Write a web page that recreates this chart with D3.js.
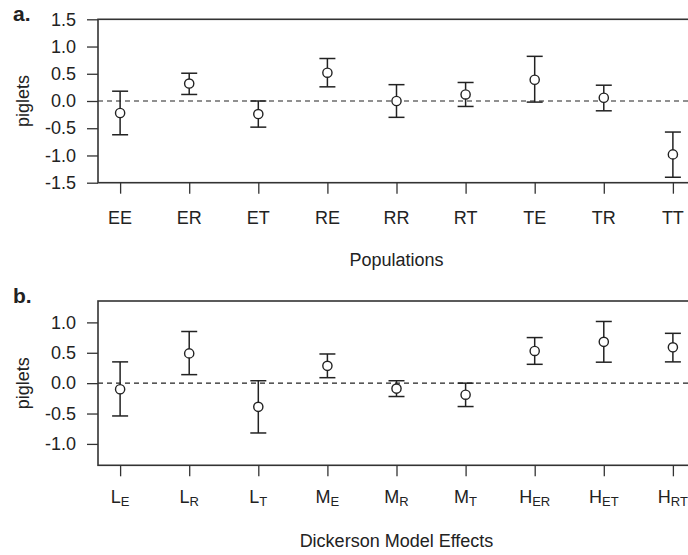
<!doctype html>
<html>
<head>
<meta charset="utf-8">
<script src="https://cdn.jsdelivr.net/npm/d3@7"></script>
<style>
  body { margin: 0; background: #fff; }
  svg text { font-family: "Liberation Sans", Arial, sans-serif; fill: #222; }
</style>
</head>
<body>
<svg id="chart" width="688" height="555"></svg>
<script>
// panel a: populations
const popCats = ['EE', 'ER', 'ET', 'RE', 'RR', 'RT', 'TE', 'TR', 'TT']
const popMean = [-0.22, 0.32, -0.24, 0.52, 0.00, 0.12, 0.39, 0.06, -0.98]
const popLow = [-0.62, 0.12, -0.48, 0.26, -0.30, -0.10, -0.02, -0.18, -1.40]
const popHigh = [0.18, 0.51, 0.00, 0.78, 0.30, 0.34, 0.82, 0.29, -0.57]
const popTicks = [1.5, 1.0, 0.5, 0.0, -0.5, -1.0, -1.5]

// panel b: Dickerson model effects (base letter + subscript)
const effBase = ['L', 'L', 'L', 'M', 'M', 'M', 'H', 'H', 'H']
const effSub = ['E', 'R', 'T', 'E', 'R', 'T', 'ER', 'ET', 'RT']
const effMean = [-0.10, 0.49, -0.39, 0.285, -0.09, -0.19, 0.53, 0.68, 0.59]
const effLow = [-0.54, 0.14, -0.82, 0.09, -0.22, -0.385, 0.31, 0.345, 0.35]
const effHigh = [0.35, 0.85, 0.04, 0.48, 0.04, 0.00, 0.75, 1.015, 0.82]
const effTicks = [1.0, 0.5, 0.0, -0.5, -1.0]

const svg = d3.select('#chart')
const ink = '#222'
const left = 98, right = 695
const fs = 18

function drawPanel (opts) {
  const n = opts.mean.length
  const x = d3.scaleLinear().domain([1 - 0.32, n + 0.32]).range([left, right])
  const y = d3.scaleLinear().domain(opts.yDomain).range([opts.bottom, opts.top])
  const g = svg.append('g')

  // zero reference line
  g.append('line')
    .attr('x1', left).attr('x2', right)
    .attr('y1', y(0)).attr('y2', y(0))
    .attr('stroke', ink).attr('stroke-width', 1.2)
    .attr('stroke-dasharray', '5,4')

  // error bars
  const bars = g.selectAll('.bar').data(d3.range(n)).join('g')
  bars.append('line')
    .attr('x1', i => x(i + 1)).attr('x2', i => x(i + 1))
    .attr('y1', i => y(opts.low[i])).attr('y2', i => y(opts.high[i]))
    .attr('stroke', ink).attr('stroke-width', 1.5)
  bars.append('line')
    .attr('x1', i => x(i + 1) - 8).attr('x2', i => x(i + 1) + 8)
    .attr('y1', i => y(opts.high[i])).attr('y2', i => y(opts.high[i]))
    .attr('stroke', ink).attr('stroke-width', 1.5)
  bars.append('line')
    .attr('x1', i => x(i + 1) - 8).attr('x2', i => x(i + 1) + 8)
    .attr('y1', i => y(opts.low[i])).attr('y2', i => y(opts.low[i]))
    .attr('stroke', ink).attr('stroke-width', 1.5)
  bars.append('circle')
    .attr('cx', i => x(i + 1)).attr('cy', i => y(opts.mean[i]))
    .attr('r', 4.6)
    .attr('fill', '#fff').attr('stroke', ink).attr('stroke-width', 1.4)

  // box
  g.append('rect')
    .attr('x', left).attr('y', opts.top)
    .attr('width', right - left).attr('height', opts.bottom - opts.top)
    .attr('fill', 'none').attr('stroke', '#333').attr('stroke-width', 1.6)

  // y axis
  const yAxis = g.append('g')
    .attr('transform', `translate(${left},0)`)
    .call(d3.axisLeft(y).tickValues(opts.ticks).tickSize(11).tickPadding(11)
      .tickFormat(d => d.toFixed(1)))
  yAxis.select('.domain').remove()
  yAxis.selectAll('line').attr('stroke', '#333').attr('stroke-width', 1.3)
  yAxis.selectAll('text').attr('font-size', fs).attr('fill', ink)
    .style('font-family', '"Liberation Sans", Arial, sans-serif')

  // x axis
  const xAxis = g.append('g')
    .attr('transform', `translate(0,${opts.bottom})`)
    .call(d3.axisBottom(x).tickValues(d3.range(1, n + 1)).tickSize(11).tickFormat(''))
  xAxis.select('.domain').remove()
  xAxis.selectAll('line').attr('stroke', '#333').attr('stroke-width', 1.3)

  opts.labels(g, x)

  // y title
  g.append('text')
    .attr('transform', `translate(29,${(opts.top + opts.bottom) / 2}) rotate(-90)`)
    .attr('text-anchor', 'middle')
    .attr('font-size', fs)
    .text('piglets')

  // x title
  g.append('text')
    .attr('x', (left + right) / 2).attr('y', opts.titleY)
    .attr('text-anchor', 'middle')
    .attr('font-size', fs)
    .text(opts.xTitle)

  // panel letter
  g.append('text')
    .attr('x', 13).attr('y', opts.letterY)
    .attr('font-size', 21).attr('font-weight', 'bold')
    .text(opts.letter)
}

drawPanel({
  top: 19.3, bottom: 182.7, yDomain: [-1.5, 1.5], ticks: popTicks,
  mean: popMean, low: popLow, high: popHigh,
  xTitle: 'Populations', titleY: 266, letter: 'a.', letterY: 21,
  labels: (g, x) => {
    g.selectAll('.xl').data(popCats).join('text')
      .attr('x', (d, i) => x(i + 1)).attr('y', 223.5)
      .attr('text-anchor', 'middle').attr('font-size', fs)
      .text(d => d)
  }
})

drawPanel({
  top: 301, bottom: 465.3, yDomain: [-1.352, 1.352], ticks: effTicks,
  mean: effMean, low: effLow, high: effHigh,
  xTitle: 'Dickerson Model Effects', titleY: 547, letter: 'b.', letterY: 302.5,
  labels: (g, x) => {
    const t = g.selectAll('.xl').data(effBase).join('text')
      .attr('x', (d, i) => x(i + 1)).attr('y', 503)
      .attr('text-anchor', 'middle').attr('font-size', fs)
    t.append('tspan').text(d => d)
    t.append('tspan').attr('font-size', 13).attr('dy', 3)
      .text((d, i) => effSub[i])
  }
})
</script>
</body>
</html>
